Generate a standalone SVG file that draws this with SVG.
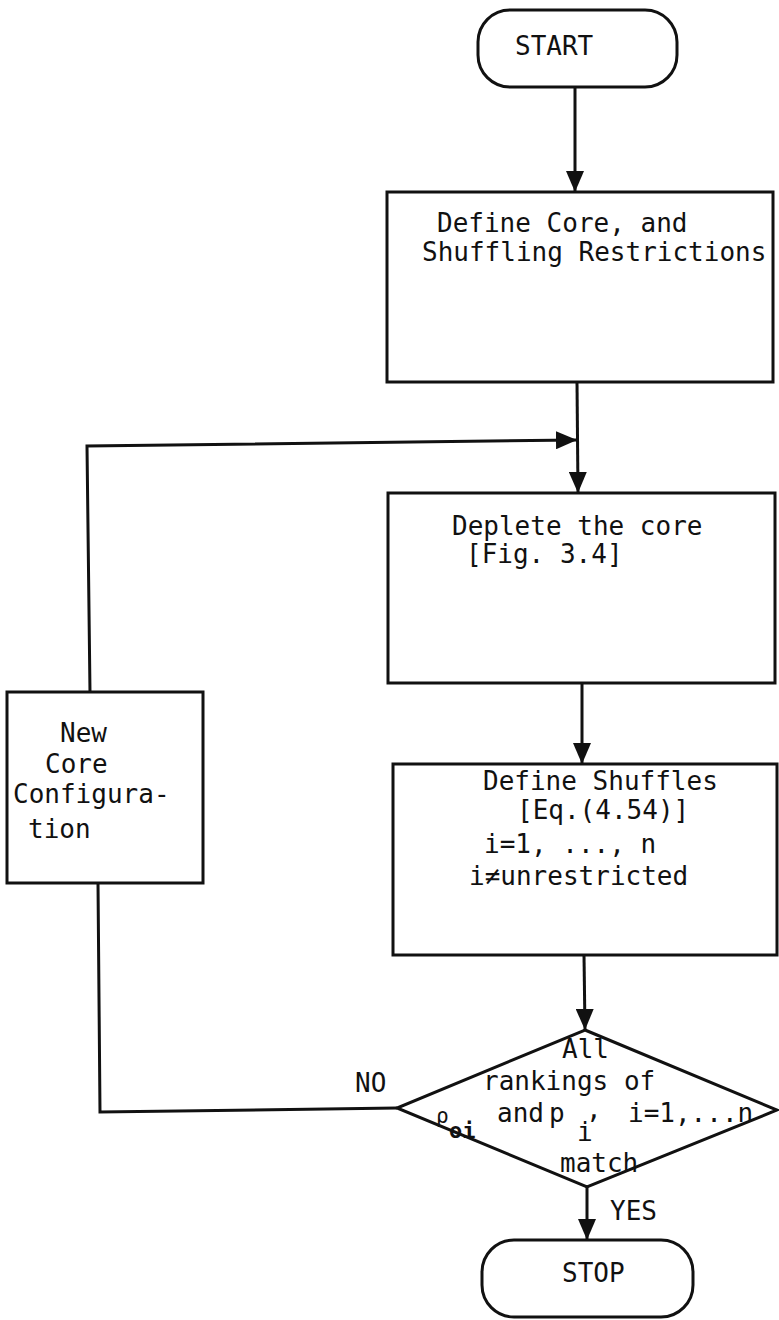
<svg xmlns="http://www.w3.org/2000/svg" width="779" height="1320" viewBox="0 0 779 1320">
<style>
.shape{fill:#fff;stroke:#111;stroke-width:3}
.line{fill:none;stroke:#111;stroke-width:3}
.t{font-family:"DejaVu Sans Mono","Liberation Mono",monospace;font-size:26px;fill:#111}
</style>
<defs>
<marker id="ah" markerUnits="userSpaceOnUse" markerWidth="22" markerHeight="18" refX="21" refY="9" orient="auto">
<path d="M0,0 L21,9 L0,18 Z" fill="#111"/>
</marker>
</defs>
<rect width="779" height="1320" fill="#fff"/>
<g id="connectors">
<line class="line" x1="575" y1="87" x2="575" y2="192" marker-end="url(#ah)"/>
<line class="line" x1="577" y1="382" x2="578" y2="493" marker-end="url(#ah)"/>
<line class="line" x1="582" y1="683" x2="582" y2="764" marker-end="url(#ah)"/>
<line class="line" x1="584" y1="955" x2="585" y2="1030" marker-end="url(#ah)"/>
<line class="line" x1="587" y1="1187" x2="587" y2="1240" marker-end="url(#ah)"/>
<polyline class="line" points="397,1108 100,1112 98,883"/>
<polyline class="line" points="90,692 87,446 577,440" marker-end="url(#ah)"/>
<text class="t" x="355" y="1092">NO</text>
<text class="t" x="610" y="1220">YES</text>
</g>
<g id="start">
<rect class="shape" x="478" y="10" width="199" height="77" rx="32" ry="32"/>
<text class="t" x="515" y="55">START</text>
</g>
<g id="define-core">
<rect class="shape" x="387" y="192" width="386" height="190"/>
<text class="t" x="437" y="232">Define Core, and</text>
<text class="t" x="422" y="261">Shuffling Restrictions</text>
</g>
<g id="deplete">
<rect class="shape" x="388" y="493" width="387" height="190"/>
<text class="t" x="452" y="535">Deplete the core</text>
<text class="t" x="466" y="563">[Fig. 3.4]</text>
</g>
<g id="define-shuffles">
<rect class="shape" x="393" y="764" width="384" height="191"/>
<text class="t" x="483" y="790">Define Shuffles</text>
<text class="t" x="517" y="819">[Eq.(4.54)]</text>
<text class="t" x="484" y="853">i=1, ..., n</text>
<text class="t" x="469" y="885">i≠unrestricted</text>
</g>
<g id="new-core">
<rect class="shape" x="7" y="692" width="196" height="191"/>
<text class="t" x="60" y="742">New</text>
<text class="t" x="45" y="773">Core</text>
<text class="t" x="13" y="803">Configura-</text>
<text class="t" x="28" y="838">tion</text>
</g>
<g id="decision">
<polygon class="shape" points="585,1030 777,1110 587,1187 397,1108"/>
<text class="t" x="562" y="1058">All</text>
<text class="t" x="483" y="1090">rankings of</text>
<text class="t" x="436" y="1123"><tspan style="font-size:21px">ρ</tspan><tspan x="449" y="1138" style="font-size:22px;font-weight:bold">oi</tspan><tspan x="497" y="1122">and</tspan><tspan x="549" y="1122">p</tspan><tspan x="577" y="1141">i</tspan><tspan x="586" y="1118">,</tspan><tspan x="628" y="1122">i=1,...n</tspan></text>
<text class="t" x="560" y="1172">match</text>
</g>
<g id="stop">
<rect class="shape" x="482" y="1240" width="211" height="77" rx="32" ry="32"/>
<text class="t" x="562" y="1282">STOP</text>
</g>
</svg>
